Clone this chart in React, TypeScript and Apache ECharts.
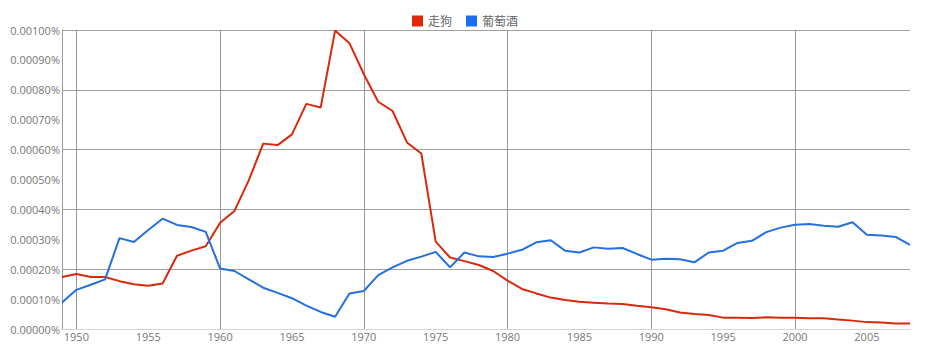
import React, { useEffect, useRef } from "react";
import * as echarts from "echarts";

const years: string[] = [];
for (let y = 1949; y <= 2008; y++) years.push(String(y));

// values in units of 0.0001 %
const zougou = [
  1.74, 1.84, 1.74, 1.74, 1.6, 1.5, 1.45, 1.52, 2.45, 2.62,
  2.77, 3.55, 3.95, 4.98, 6.2, 6.15, 6.51, 7.53, 7.41, 9.98,
  9.56, 8.52, 7.6, 7.29, 6.24, 5.87, 2.92, 2.39, 2.27, 2.14,
  1.94, 1.62, 1.34, 1.19, 1.05, 0.97, 0.91, 0.88, 0.85, 0.84,
  0.78, 0.73, 0.66, 0.55, 0.5, 0.47, 0.38, 0.38, 0.37, 0.39,
  0.38, 0.38, 0.36, 0.36, 0.32, 0.28, 0.23, 0.22, 0.18, 0.18,
];
const putaojiu = [
  0.89, 1.31, 1.48, 1.66, 3.04, 2.91, 3.31, 3.69, 3.48, 3.41,
  3.25, 2.02, 1.94, 1.66, 1.38, 1.21, 1.03, 0.78, 0.57, 0.41,
  1.19, 1.27, 1.8, 2.06, 2.28, 2.42, 2.58, 2.06, 2.56, 2.43,
  2.41, 2.52, 2.65, 2.9, 2.97, 2.62, 2.56, 2.73, 2.68, 2.71,
  2.51, 2.32, 2.35, 2.33, 2.23, 2.56, 2.62, 2.88, 2.95, 3.24,
  3.39, 3.49, 3.51, 3.45, 3.42, 3.57, 3.15, 3.13, 3.08, 2.81,
];
const seriesNames = ["走狗", "葡萄酒"];
const lightGridValues = [0.0004, 0.0006];

const toPct = (a: number[]) => a.map((v) => +(v * 0.0001).toFixed(8));

export default function App() {
  const ref = useRef<HTMLDivElement>(null);
  useEffect(() => {
    if (!ref.current) return;
    const chart = echarts.init(ref.current, null, { renderer: "svg" });
    const font = "'Open Sans', 'Noto Sans CJK SC', sans-serif";
    chart.setOption({
      animation: false,
      textStyle: { fontFamily: font },
      legend: {
        top: 10,
        left: "center",
        itemWidth: 11,
        itemHeight: 11,
        itemGap: 14,
        icon: "rect",
        textStyle: { color: "#666", fontSize: 12, fontFamily: font },
        data: seriesNames,
      },
      grid: { left: 62, right: 20, top: 30, bottom: 16, containLabel: false },
      xAxis: {
        type: "category",
        data: years,
        boundaryGap: false,
        axisLine: { show: true, lineStyle: { color: "#999", width: 1 } },
        axisTick: { show: false },
        axisLabel: {
          interval: (i: number, v: string) => Number(v) % 5 === 0,
          color: "#777",
          fontSize: 11,
          margin: 2,
          fontFamily: font,
        },
        splitLine: {
          show: true,
          interval: (i: number, v: string) => Number(v) % 10 === 0,
          lineStyle: { color: "#999", width: 1 },
        },
      },
      yAxis: [
        {
          type: "value",
          min: 0,
          max: 0.001,
          interval: 0.0001,
          axisLine: { show: true, lineStyle: { color: "#999", width: 1 } },
          axisTick: { show: false },
          axisLabel: {
            color: "#777",
            fontSize: 11,
            margin: 2,
            fontFamily: font,
            formatter: (v: number) => v.toFixed(5) + "%",
          },
          splitLine: { show: false },
        },
        {
          type: "value",
          min: 0,
          max: 0.001,
          interval: 0.0002,
          position: "left",
          axisLine: { show: false },
          axisTick: { show: false },
          axisLabel: { show: false },
          splitLine: { show: true, lineStyle: { color: "#a0a0a0", width: 1 } },
        },
      ],
      series: [
        {
          name: seriesNames[0],
          type: "line",
          data: toPct(zougou),
          showSymbol: false,
          symbol: "none",
          z: 3,
          lineStyle: { color: "#d9290c", width: 2 },
          itemStyle: { color: "#dc2a0a" },
          markLine: {
            silent: true,
            symbol: "none",
            label: { show: false },
            z: 1,
            lineStyle: { color: "#d4d4d4", width: 1, type: "solid" },
            data: lightGridValues.map((v) => ({ yAxis: v })),
          },
        },
        {
          name: seriesNames[1],
          type: "line",
          data: toPct(putaojiu),
          showSymbol: false,
          symbol: "none",
          z: 3,
          lineStyle: { color: "#2470df", width: 2 },
          itemStyle: { color: "#1a6ff0" },
        },
      ],
    });
    return () => chart.dispose();
  }, []);
  return <div ref={ref} style={{ width: 930, height: 345, position: "absolute", left: 0, top: 0 }} />;
}
